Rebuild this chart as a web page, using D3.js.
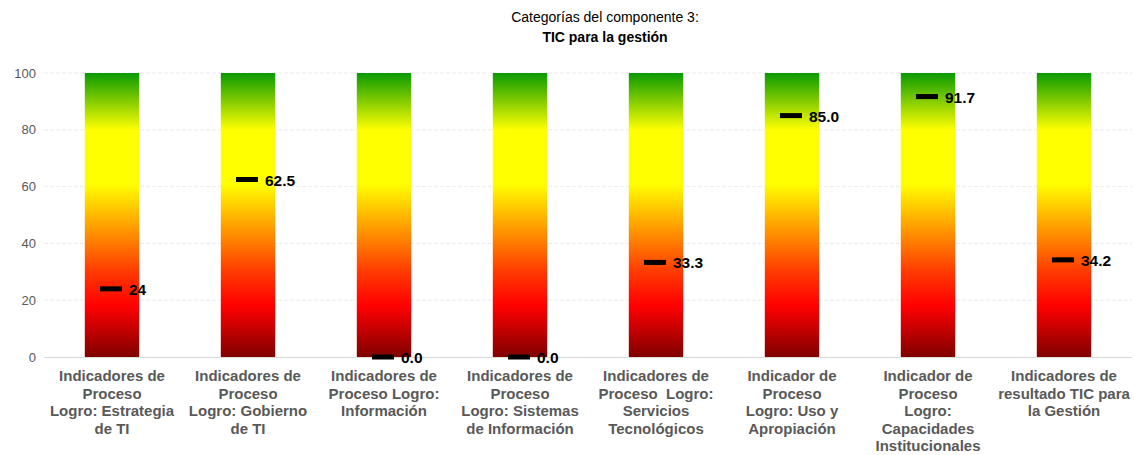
<!DOCTYPE html>
<html>
<head>
<meta charset="utf-8">
<script src="https://cdn.jsdelivr.net/npm/d3@7"></script>
<style>
  html, body { margin: 0; padding: 0; background: #fff; }
  svg { display: block; font-family: "Liberation Sans", Arial, sans-serif; }
</style>
</head>
<body>
<svg id="chart" width="1135" height="455"></svg>
<script>
// Categories (each entry is the wrapped label lines)
const categories = [
  ["Indicadores de", "Proceso", "Logro: Estrategia", "de TI"],
  ["Indicadores de", "Proceso", "Logro: Gobierno", "de TI"],
  ["Indicadores de", "Proceso Logro:", "Información"],
  ["Indicadores de", "Proceso", "Logro: Sistemas", "de Información"],
  ["Indicadores de", "Proceso  Logro:", "Servicios", "Tecnológicos"],
  ["Indicador de", "Proceso", "Logro: Uso y", "Apropiación"],
  ["Indicador de", "Proceso", "Logro:", "Capacidades", "Institucionales"],
  ["Indicadores de", "resultado TIC para", "la Gestión"]
];
// Achieved value for each category
const values = [24, 62.5, 0.0, 0.0, 33.3, 85.0, 91.7, 34.2];
// Label text shown next to each marker
const valueLabels = ["24", "62.5", "0.0", "0.0", "33.3", "85.0", "91.7", "34.2"];
// Full-scale background bar value
const maxValues = [100, 100, 100, 100, 100, 100, 100, 100];
const yTicks = [0, 20, 40, 60, 80, 100];
const titleLines = ["Categorías del componente 3:", "TIC para la gestión"];

const svg = d3.select("#chart");
const margin = { left: 44, right: 3, top: 73, bottom: 98 };
const W = 1135, H = 455;

const x = d3.scaleBand()
  .domain(d3.range(categories.length))
  .range([margin.left, W - margin.right])
  .paddingInner(0.6)
  .paddingOuter(0.3);

const y = d3.scaleLinear().domain([0, 100]).range([H - margin.bottom, margin.top]);

// Vertical traffic-light gradient for the background bars
const defs = svg.append("defs");
const grad = defs.append("linearGradient")
  .attr("id", "traffic")
  .attr("x1", 0).attr("y1", 1).attr("x2", 0).attr("y2", 0);
[
  [0, "#800000"],
  [0.18, "#ff0000"],
  [0.30, "#ff3a00"],
  [0.45, "#ff9900"],
  [0.61, "#ffff00"],
  [0.80, "#ffff00"],
  [1, "#0a9a00"]
].forEach(([o, c]) => grad.append("stop").attr("offset", o).attr("stop-color", c));

// Title
svg.append("text")
  .attr("x", 605).attr("y", 22)
  .attr("text-anchor", "middle")
  .attr("font-size", 14).attr("fill", "#000")
  .text(titleLines[0]);
svg.append("text")
  .attr("x", 605).attr("y", 42)
  .attr("text-anchor", "middle")
  .attr("font-size", 14).attr("font-weight", "bold").attr("fill", "#000")
  .text(titleLines[1]);

// Gridlines
svg.append("g")
  .selectAll("line")
  .data(yTicks.filter(d => d > 0))
  .join("line")
  .attr("x1", margin.left).attr("x2", W - 3)
  .attr("y1", d => y(d)).attr("y2", d => y(d))
  .attr("stroke", "#ececec")
  .attr("stroke-dasharray", "4,2");

// Y axis labels
const yAxis = d3.axisLeft(y).tickValues(yTicks).tickSize(0).tickPadding(0).tickFormat(d3.format("d"));
const gy = svg.append("g").attr("transform", `translate(${margin.left - 8},0)`).call(yAxis);
gy.select(".domain").remove();
gy.selectAll("text")
  .attr("font-size", 13)
  .attr("font-family", "Liberation Sans, Arial, sans-serif")
  .attr("fill", "#595959");

// Background gradient bars
svg.append("g")
  .selectAll("rect")
  .data(maxValues)
  .join("rect")
  .attr("x", (d, i) => x(i))
  .attr("width", x.bandwidth())
  .attr("y", d => y(d))
  .attr("height", d => y(0) - y(d))
  .attr("fill", "url(#traffic)");

// Baseline
svg.append("line")
  .attr("x1", margin.left).attr("x2", W - 3)
  .attr("y1", y(0) + 0.5).attr("y2", y(0) + 0.5)
  .attr("stroke", "#d9d9d9").attr("stroke-width", 1);

// Value markers
const markW = 22;
svg.append("g")
  .selectAll("rect")
  .data(values)
  .join("rect")
  .attr("x", (d, i) => x(i) + x.bandwidth() / 2 - markW / 2 - 1)
  .attr("y", d => y(d) - 2.5)
  .attr("width", markW)
  .attr("height", 5)
  .attr("fill", "#000");

// Value labels
svg.append("g")
  .selectAll("text")
  .data(values)
  .join("text")
  .attr("x", (d, i) => x(i) + x.bandwidth() / 2 + 17)
  .attr("y", d => y(d) + 6)
  .attr("font-size", 15.5)
  .attr("font-weight", "bold")
  .attr("fill", "#000")
  .text((d, i) => valueLabels[i]);

// Category labels
const xl = svg.append("g")
  .selectAll("text")
  .data(categories)
  .join("text")
  .attr("text-anchor", "middle")
  .attr("font-size", 15)
  .attr("font-weight", "bold")
  .attr("fill", "#595959")
  .attr("transform", (d, i) => `translate(${x(i) + x.bandwidth() / 2},${y(0) + 24})`);
xl.selectAll("tspan")
  .data(d => d)
  .join("tspan")
  .attr("x", 0)
  .attr("dy", (d, j) => j === 0 ? 0 : 17.6)
  .attr("xml:space", "preserve")
  .text(d => d);
</script>
</body>
</html>
